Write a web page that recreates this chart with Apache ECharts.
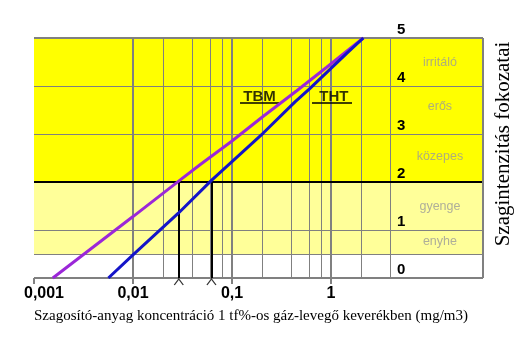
<!DOCTYPE html>
<html>
<head>
<meta charset="utf-8">
<script src="https://cdn.jsdelivr.net/npm/echarts@6/dist/echarts.min.js"></script>
<style>
html,body{margin:0;padding:0;background:#fff;}
#c{width:529px;height:340px;}
</style>
</head>
<body>
<div id="c"></div>
<script>
// ---- data ----
const tbmX = [0.00155, 0.01, 0.0298, 0.0475, 0.0993, 0.207, 0.451, 0.905, 2.12];
const tbmY = [0, 1.28, 2.04, 2.36, 2.85, 3.37, 3.9, 4.39, 5];
const thtX = [0.00564, 0.01, 0.0287, 0.0624, 0.207, 0.433, 0.614, 1.44, 2.12];
const thtY = [0, 0.48, 1.35, 2.04, 3.02, 3.67, 3.95, 4.68, 5];
const dropX = [0.029, 0.062];
const xTickValues = [0.001, 0.01, 0.1, 1];
const xTickLabels = ['0,001', '0,01', '0,1', '1'];
const xMin = 0.001, xMax = 34.3;
const minorGridX = [0.002, 0.004, 0.006, 0.008, 0.02, 0.04, 0.06, 0.08, 0.2, 0.4, 0.6, 0.8, 2, 4];
const majorGridX = [0.01, 0.1, 1];
const gridY = [0.5, 1, 3, 4];
const levelNames = ['irritáló', 'erős', 'közepes', 'gyenge', 'enyhe'];
const levelY = [4.48, 3.58, 2.52, 1.48, 0.75];
const levelX = 12.6;
const seriesNames = ['TBM', 'THT'];
const seriesLabelX = [0.19, 1.07];
const seriesLabelY = 3.77;
const underlines = [[0.1205, 0.298], [0.643, 1.63]];
const underlineY = 3.646;
const xTitle = 'Szagosító-anyag koncentráció 1 tf%-os gáz-levegő keverékben (mg/m3)';
const yTitle = 'Szagintenzitás fokozatai';

const zip = (xs, ys) => xs.map((x, i) => [x, ys[i]]);
const GRAY = '#808080';
const vLine = (x, w, c) => ({ xAxis: x, lineStyle: { width: w, color: c, type: 'solid' } });
const hLine = (y, w, c) => ({ yAxis: y, lineStyle: { width: w, color: c, type: 'solid' } });

const chart = echarts.init(document.getElementById('c'), null, { renderer: 'canvas' });
chart.setOption({
  animation: false,
  backgroundColor: '#fff',
  grid: { left: 34, right: 46, top: 38, bottom: 62 },
  xAxis: {
    type: 'log', logBase: 10, min: xMin, max: xMax,
    axisLine: { show: false },
    splitLine: { show: false },
    axisTick: { show: true, length: 6, lineStyle: { color: GRAY, width: 2 }, customValues: xTickValues },
    axisLabel: {
      customValues: xTickValues,
      margin: 8,
      color: '#000', fontFamily: 'Liberation Sans, Arial', fontWeight: 'bold', fontSize: 16,
      rich: { first: { fontFamily: 'Liberation Sans, Arial', fontWeight: 'bold', fontSize: 16, color: '#000', padding: [0, 0, 0, 20] } },
      formatter: v => {
        const i = xTickValues.findIndex(t => Math.abs(Math.log10(t) - Math.log10(v)) < 1e-6);
        if (i < 0) return '';
        return i === 0 ? '{first|' + xTickLabels[i] + '}' : xTickLabels[i];
      }
    },
    name: xTitle, nameLocation: 'middle', nameGap: 31,
    nameTextStyle: { fontFamily: 'Liberation Serif, Times New Roman', fontSize: 15, color: '#000', padding: [0, 15, 0, 0] }
  },
  yAxis: {
    type: 'value', min: 0, max: 5, interval: 1, position: 'right', offset: -91, z: 20,
    axisLine: { show: false }, axisTick: { show: false }, splitLine: { show: false },
    axisLabel: {
      inside: false, margin: 5, align: 'left', verticalAlign: 'bottom', padding: [0, 0, 1, 0],
      color: '#000', fontFamily: 'Liberation Sans, Arial', fontWeight: 'bold', fontSize: 15
    }
  },
  graphic: [{
    type: 'text', x: 503, y: 144, rotation: Math.PI / 2,
    style: { text: yTitle, font: '21px "Liberation Serif", "Times New Roman", serif', fill: '#000', textAlign: 'center', textVerticalAlign: 'middle' }
  }],
  series: [
    {
      type: 'line', data: [], z: 0, silent: true,
      markArea: {
        silent: true,
        data: [
          [{ xAxis: xMin, yAxis: 0.5, itemStyle: { color: '#ffff99' } }, { xAxis: xMax, yAxis: 2 }],
          [{ xAxis: xMin, yAxis: 2, itemStyle: { color: '#ffff00' } }, { xAxis: xMax, yAxis: 5 }]
        ]
      }
    },
    {
      type: 'line', data: [], z: 1, silent: true,
      markLine: {
        silent: true, symbol: 'none', label: { show: false }, animation: false,
        data: [
          ...minorGridX.map(x => vLine(x, 1, GRAY)),
          ...majorGridX.map(x => vLine(x, 2, GRAY)),
          ...gridY.map(y => hLine(y, 1, GRAY)),
          hLine(2, 2, '#000'),
          vLine(xMin, 2, GRAY), vLine(xMax, 2, GRAY),
          hLine(0, 2, GRAY), hLine(5, 2, GRAY),
          ...dropX.map(x => [{ coord: [x, 0], lineStyle: { width: 2, color: '#000', type: 'solid' } }, { coord: [x, 2] }]),
          ...underlines.map(u => [{ coord: [u[0], underlineY], lineStyle: { width: 1.5, color: '#000', type: 'solid' } }, { coord: [u[1], underlineY] }])
        ]
      }
    },
    {
      name: 'TBM', type: 'line', data: zip(tbmX, tbmY), z: 5, showSymbol: false, symbol: 'none',
      lineStyle: { color: '#9b27d8', width: 3 }, clip: false
    },
    {
      name: 'THT', type: 'line', data: zip(thtX, thtY), z: 6, showSymbol: false, symbol: 'none',
      lineStyle: { color: '#1414c8', width: 3 }, clip: false
    },
    {
      type: 'scatter', z: 7, silent: true, clip: false,
      symbol: 'path://M0,10 L5,0 L10,10', symbolSize: [9, 6], symbolOffset: [0, 4],
      itemStyle: { color: 'transparent', borderColor: '#000', borderWidth: 1 },
      data: dropX.map(x => [x, 0])
    },
    {
      type: 'scatter', z: 8, silent: true, symbolSize: 0,
      label: { show: true, position: 'inside', color: '#9a9a9a', fontFamily: 'Liberation Sans, Arial', fontSize: 12.5, formatter: p => p.name },
      data: levelNames.map((n, i) => ({ name: n, value: [levelX, levelY[i]] }))
    },
    {
      type: 'scatter', z: 8, silent: true, symbolSize: 0,
      label: { show: true, position: 'inside', color: '#000', fontFamily: 'Liberation Sans, Arial', fontWeight: 'bold', fontSize: 15, formatter: p => p.name },
      data: seriesNames.map((n, i) => ({ name: n, value: [seriesLabelX[i], seriesLabelY] }))
    }
  ]
});
</script>
</body>
</html>
